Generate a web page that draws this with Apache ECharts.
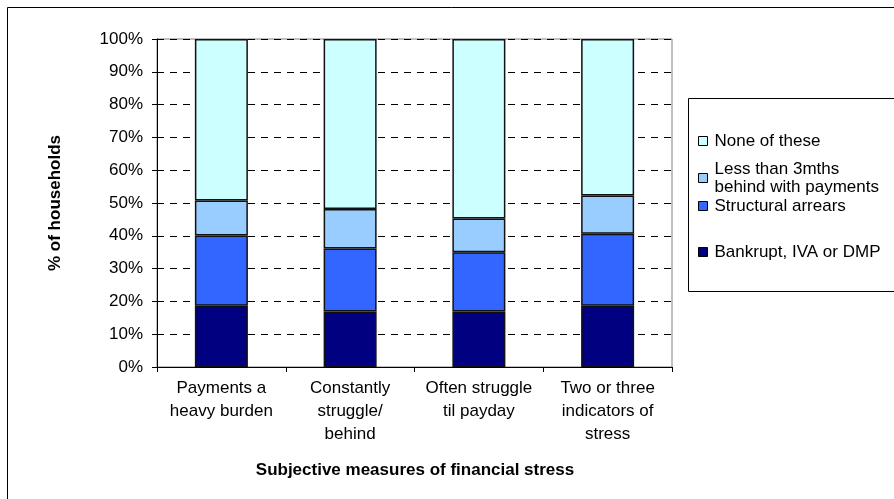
<!DOCTYPE html>
<html>
<head>
<meta charset="utf-8">
<script src="https://cdn.jsdelivr.net/npm/echarts@6/dist/echarts.min.js"></script>
<style>
html,body{margin:0;padding:0;background:#fff;}
#chart{width:894px;height:499px;}
</style>
</head>
<body>
<div id="chart"></div>
<script>
const categories = ["Payments a\nheavy burden", "Constantly\nstruggle/\nbehind", "Often struggle\ntil payday", "Two or three\nindicators of\nstress"];
const seriesNames = ["Bankrupt, IVA or DMP", "Structural arrears", "Less than 3mths behind with payments", "None of these"];
const bankrupt = [18.7, 16.9, 16.9, 18.7];
const structural = [21.4, 19.2, 18.1, 21.9];
const lessThan3 = [10.7, 12.1, 10.3, 11.7];
const noneOfThese = [49.2, 51.8, 54.7, 47.7];
const yTicks = [0, 10, 20, 30, 40, 50, 60, 70, 80, 90, 100];

const colors = ["#000080", "#3366FF", "#99CCFF", "#CCFFFF"];
const FONT = "'Liberation Sans', Arial, sans-serif";
const FS = 17;
const chart = echarts.init(document.getElementById('chart'), null, {renderer: 'canvas'});

const values = [bankrupt, structural, lessThan3, noneOfThese];
const series = seriesNames.map((n, i) => ({
  name: n,
  type: 'bar',
  stack: 'total',
  barWidth: 53,
  data: values[i],
  itemStyle: {color: colors[i], borderColor: '#111', borderWidth: 1.5},
  emphasis: {disabled: true}
}));

const legendTops = [127, 155, 192, 238];
const legendLabels = ["None of these", "Less than 3mths\nbehind with payments", "Structural arrears", "Bankrupt, IVA or DMP"];
const legendOrder = [3, 2, 1, 0];
const legends = legendOrder.map((si, k) => ({
  show: true,
  orient: 'vertical',
  left: 693,
  top: legendTops[k],
  data: [seriesNames[si]],
  itemWidth: 9,
  itemHeight: 9,
  icon: 'rect',
  itemStyle: {borderColor: '#000', borderWidth: 1},
  selectedMode: false,
  formatter: () => legendLabels[k],
  textStyle: {fontFamily: FONT, fontSize: FS, color: '#000', lineHeight: 18, padding: [0,0,0,2]}
}));

chart.setOption({
  animation: false,
  backgroundColor: '#fff',
  textStyle: {fontFamily: FONT},
  grid: {left: 157, top: 39, right: 222, bottom: 132, show: true, borderColor: '#808080', borderWidth: 1, containLabel: false},
  legend: legends,
  xAxis: {
    type: 'category',
    data: categories,
    boundaryGap: true,
    axisLine: {lineStyle: {color: '#000', width: 1}},
    axisTick: {show: true, alignWithLabel: false, length: 5, lineStyle: {color: '#000'}},
    axisLabel: {fontFamily: FONT, fontSize: FS, color: '#000', lineHeight: 23, margin: 10, interval: 0}
  },
  yAxis: {
    type: 'value',
    min: 0,
    max: 100,
    interval: 10,
    axisLine: {show: true, lineStyle: {color: '#000', width: 1}},
    axisTick: {show: true, length: 5, lineStyle: {color: '#000'}},
    axisLabel: {fontFamily: FONT, fontSize: FS, color: '#000', margin: 14, formatter: v => yTicks.includes(v) ? v + '%' : ''},
    splitLine: {show: true, lineStyle: {color: '#000', type: [7, 6], width: 1}}
  },
  series: series,
  graphic: [
    {type: 'rect', shape: {x: 7.5, y: 7.5, width: 900, height: 500}, style: {fill: 'none', stroke: '#000', lineWidth: 1}, silent: true, z: -10},
    {type: 'rect', shape: {x: 688.5, y: 98.5, width: 220, height: 193}, style: {fill: '#fff', stroke: '#000', lineWidth: 1}, silent: true, z: -5},
    {type: 'text', x: 55, y: 203, rotation: Math.PI / 2, style: {text: '% of households', fontFamily: FONT, fontSize: FS, fontWeight: 'bold', fill: '#000', align: 'center', verticalAlign: 'middle'}},
    {type: 'text', x: 415, y: 470, style: {text: 'Subjective measures of financial stress', fontFamily: FONT, fontSize: FS, fontWeight: 'bold', fill: '#000', align: 'center', verticalAlign: 'middle'}}
  ]
});
</script>
</body>
</html>
